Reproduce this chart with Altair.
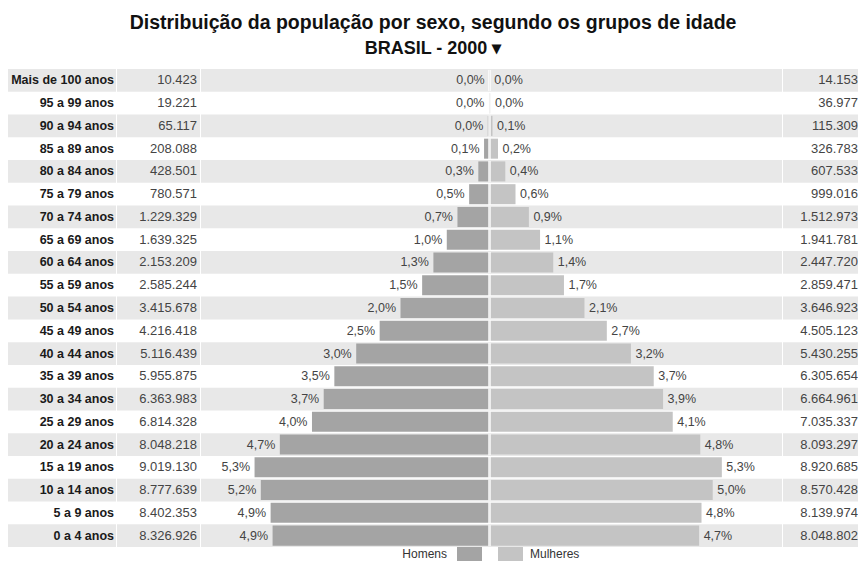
import altair as alt
import pandas as pd

ages = ["Mais de 100 anos", "95 a 99 anos", "90 a 94 anos", "85 a 89 anos", "80 a 84 anos",
        "75 a 79 anos", "70 a 74 anos", "65 a 69 anos", "60 a 64 anos", "55 a 59 anos",
        "50 a 54 anos", "45 a 49 anos", "40 a 44 anos", "35 a 39 anos", "30 a 34 anos",
        "25 a 29 anos", "20 a 24 anos", "15 a 19 anos", "10 a 14 anos", "5 a 9 anos", "0 a 4 anos"]
homens = [10423, 19221, 65117, 208088, 428501, 780571, 1229329, 1639325, 2153209, 2585244,
          3415678, 4216418, 5116439, 5955875, 6363983, 6814328, 8048218, 9019130, 8777639,
          8402353, 8326926]
mulheres = [14153, 36977, 115309, 326783, 607533, 999016, 1512973, 1941781, 2447720, 2859471,
            3646923, 4505123, 5430255, 6305654, 6664961, 7035337, 8093297, 8920685, 8570428,
            8139974, 8048802]
pct_homens = ["0,0%", "0,0%", "0,0%", "0,1%", "0,3%", "0,5%", "0,7%", "1,0%", "1,3%", "1,5%",
              "2,0%", "2,5%", "3,0%", "3,5%", "3,7%", "4,0%", "4,7%", "5,3%", "5,2%", "4,9%", "4,9%"]
pct_mulheres = ["0,0%", "0,0%", "0,1%", "0,2%", "0,4%", "0,6%", "0,9%", "1,1%", "1,4%", "1,7%",
                "2,1%", "2,7%", "3,2%", "3,7%", "3,9%", "4,1%", "4,8%", "5,3%", "5,0%", "4,8%", "4,7%"]
sexos = ["Homens", "Mulheres"]
cores = ["#a4a4a4", "#c4c4c4"]

FONT = "Liberation Sans"
H = 478
RECT = "M-1,-0.56H1V0.56H-1Z"


def fmt(v):
    return f"{v:,}".replace(",", ".")


rows = pd.DataFrame({
    "age": ages,
    "band": [i % 2 == 0 for i in range(len(ages))],
    "h_str": [fmt(v) for v in homens],
    "m_str": [fmt(v) for v in mulheres],
})

df_h = pd.DataFrame({"age": ages, "sexo": sexos[0], "valor": [-v for v in homens], "pct": pct_homens})
df_m = pd.DataFrame({"age": ages, "sexo": sexos[1], "valor": list(mulheres), "pct": pct_mulheres})

yenc = alt.Y("age:N", sort=ages, axis=None,
             scale=alt.Scale(paddingInner=0, paddingOuter=0))

bands_base = alt.Chart(rows).mark_rect(color="#e8e8e8").encode(y=yenc).transform_filter("datum.band")

label_panel = alt.layer(
    bands_base,
    alt.Chart(rows).mark_text(align="right", baseline="middle", font=FONT, fontSize=12.5,
                              fontWeight="bold", color="#1a1a1a").encode(
        y=yenc, x=alt.value(106), text="age:N"),
).properties(width=108, height=H)

left_num_panel = alt.layer(
    bands_base,
    alt.Chart(rows).mark_text(align="right", baseline="middle", font=FONT, fontSize=13,
                              color="#444444").encode(
        y=yenc, x=alt.value(80), text="h_str:N"),
).properties(width=83, height=H)

right_num_panel = alt.layer(
    bands_base,
    alt.Chart(rows).mark_text(align="right", baseline="middle", font=FONT, fontSize=13,
                              color="#444444").encode(
        y=yenc, x=alt.value(75), text="m_str:N"),
).properties(width=75, height=H)

xscale = alt.Scale(domain=[-11.075e6, 11.23e6], nice=False, zero=False)

bars_h = alt.Chart(df_h).mark_bar(height={"band": 0.88}).encode(
    y=yenc,
    x=alt.X("valor:Q", scale=xscale, axis=None),
    x2=alt.datum(0),
    color=alt.Color("sexo:N", scale=alt.Scale(domain=[sexos[0]], range=[cores[0]]),
                    legend=alt.Legend(title=None, orient="none", legendX=449, legendY=472.5,
                                      symbolType=RECT, symbolSize=625, symbolStrokeWidth=0,
                                      symbolOpacity=1,
                                      labelFont=FONT, labelFontSize=12, labelColor="#333333",
                                      labelAlign="right", labelOffset={"expr": "-35"})),
)
bars_m = alt.Chart(df_m).mark_bar(height={"band": 0.88}).encode(
    y=yenc,
    x=alt.X("valor:Q", scale=xscale, axis=None),
    x2=alt.datum(0),
    fill=alt.Fill("sexo:N", scale=alt.Scale(domain=[sexos[1]], range=[cores[1]]),
                  legend=alt.Legend(title=None, orient="none", legendX=490, legendY=472.5,
                                    symbolType=RECT, symbolSize=625, symbolStrokeWidth=0,
                                    symbolOpacity=1,
                                    labelFont=FONT, labelFontSize=12, labelColor="#333333",
                                    labelAlign="left", labelOffset=7)),
)

center = alt.Chart(rows).mark_tick(color="white", thickness=3, size=21, orient="vertical").encode(
    y=yenc, x=alt.X("z:Q", scale=xscale, axis=None),
).transform_calculate(z="0")

lab_h = alt.Chart(df_h).mark_text(
    align="right", baseline="middle", dx=-4.5, font=FONT, fontSize=12.5, color="#444444").encode(
    y=yenc, x=alt.X("valor:Q", scale=xscale, axis=None), text="pct:N")
lab_m = alt.Chart(df_m).mark_text(
    align="left", baseline="middle", dx=4.5, font=FONT, fontSize=12.5, color="#444444").encode(
    y=yenc, x=alt.X("valor:Q", scale=xscale, axis=None), text="pct:N")

pyramid = alt.layer(bands_base, bars_h, bars_m, center, lab_h, lab_m).properties(width=581, height=H)

chart = alt.hconcat(label_panel, left_num_panel, pyramid, right_num_panel, spacing=1).properties(
    title=alt.TitleParams(
        text="Distribuição da população por sexo, segundo os grupos de idade",
        subtitle="BRASIL - 2000 ▾",
        font=FONT, fontSize=19.5, fontWeight="bold", color="#111111",
        subtitleFont=FONT, subtitleFontSize=18, subtitleFontWeight="bold", subtitleColor="#111111",
        anchor="middle", offset=10.5, subtitlePadding=6),
    padding={"left": 0, "right": 0, "top": 5, "bottom": 0},
    background="white",
).configure_view(stroke=None)

chart.save("out.html", embed_options={"renderer": "svg", "actions": False})
